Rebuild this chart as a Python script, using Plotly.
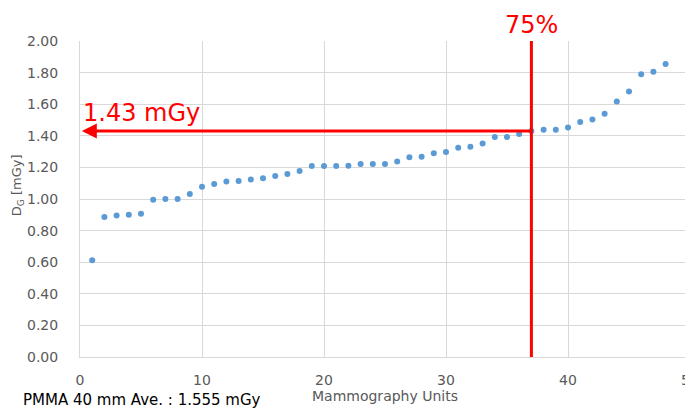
import plotly.graph_objects as go

units = list(range(1, 49))
dose = [0.613, 0.886, 0.896, 0.900, 0.907, 0.996, 1.000, 1.000, 1.032, 1.078,
        1.095, 1.110, 1.114, 1.124, 1.131, 1.146, 1.158, 1.177, 1.209, 1.209,
        1.209, 1.210, 1.222, 1.222, 1.222, 1.237, 1.264, 1.268, 1.289, 1.298,
        1.325, 1.330, 1.351, 1.393, 1.393, 1.412, 1.430, 1.439, 1.439, 1.452,
        1.488, 1.503, 1.539, 1.617, 1.680, 1.790, 1.805, 1.854]

p75_unit = 37
p75_dose = 1.43
x_ticks = [0, 10, 20, 30, 40, 50]
y_ticks = [0.0, 0.2, 0.4, 0.6, 0.8, 1.0, 1.2, 1.4, 1.6, 1.8, 2.0]

FONT = "DejaVu Sans"
GRAY = "#595959"
RED = "#ff0000"

fig = go.Figure()
fig.add_trace(go.Scatter(x=units, y=dose, mode="markers",
                         marker=dict(color="#5b9bd5", size=6), showlegend=False,
                         cliponaxis=False))

fig.add_shape(type="line", x0=p75_unit, x1=p75_unit, y0=0, y1=2.0,
              xref="x", yref="y", line=dict(color=RED, width=3))

fig.add_annotation(x=0.15, y=p75_dose, ax=p75_unit, ay=p75_dose,
                   xref="x", yref="y", axref="x", ayref="y",
                   text="", showarrow=True, arrowhead=2, arrowsize=1,
                   arrowwidth=3, arrowcolor=RED)

fig.add_annotation(x=0.05, y=p75_dose, xref="x", yref="y", xanchor="left",
                   yanchor="bottom", yshift=2, text="1.43 mGy", showarrow=False,
                   font=dict(family=FONT, size=24, color=RED))

fig.add_annotation(x=p75_unit, y=1, xref="x", yref="paper", xanchor="center",
                   yanchor="bottom", yshift=0, text="75%", showarrow=False,
                   font=dict(family=FONT, size=24, color=RED))

fig.add_annotation(x=-0.097, y=-0.1, xref="paper", yref="paper", xanchor="left",
                   yanchor="top", text="PMMA 40 mm Ave. : 1.555 mGy", showarrow=False,
                   font=dict(family=FONT, size=15, color="#000000"))

fig.add_annotation(x=-0.103, y=0.544, xref="paper", yref="paper", xanchor="center",
                   yanchor="middle", textangle=-90, text="D<sub>G</sub> [mGy]",
                   showarrow=False, font=dict(family=FONT, size=13, color=GRAY))

fig.update_xaxes(range=[0, 50], tickvals=x_ticks, ticktext=[str(v) for v in x_ticks],
                 showgrid=True, gridcolor="#d9d9d9", gridwidth=1, zeroline=False,
                 showline=True, linecolor="#d9d9d9", ticks="", automargin=False,
                 ticklabelstandoff=10, ticklabeloverflow="allow",
                 tickfont=dict(family=FONT, size=14, color=GRAY),
                 title=dict(text="Mammography Units", standoff=2,
                            font=dict(family=FONT, size=14, color=GRAY)))
fig.update_yaxes(range=[0, 2.0], tickvals=y_ticks, ticktext=[f"{v:.2f}" for v in y_ticks],
                 showgrid=True, gridcolor="#d9d9d9", gridwidth=1, zeroline=False,
                 showline=True, linecolor="#d9d9d9", ticks="", automargin=False,
                 ticklabelstandoff=18,
                 tickfont=dict(family=FONT, size=14, color=GRAY))

fig.update_layout(width=685, height=402, plot_bgcolor="white", paper_bgcolor="white",
                  margin=dict(l=72, r=3, t=33, b=53))

fig.write_html("out.html")
